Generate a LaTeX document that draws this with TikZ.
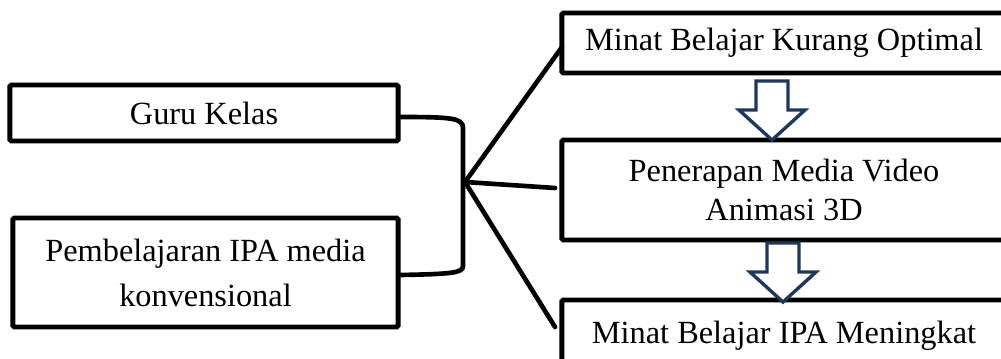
\documentclass[tikz,border=0pt]{standalone}
\usepackage{fontspec}
\setmainfont{Liberation Serif}
\usepackage{tikz}
\usetikzlibrary{positioning, calc}
\definecolor{arrowblue}{RGB}{31,56,88}
\tikzset{
  box/.style={rectangle, draw=black, fill=white, align=center,
    font=\fontsize{23}{28}\selectfont, line width=3.5pt,
    rounded corners=1pt, inner sep=0pt},
  link/.style={line width=3.3pt, color=black, line cap=round},
  hollowarrow/.style={draw=arrowblue, fill=white, line width=2.4pt,
    line join=miter}
}
\begin{document}
\begin{tikzpicture}[x=0.025cm, y=-0.025cm]
  \useasboundingbox (0,0) rectangle (1001,358);
  \clip (0,0) rectangle (1001,358);
  % left boxes
  \node[box, minimum width=9.7cm, minimum height=1.4cm] (guru) at (204,113) {Guru Kelas};
  \node[box, minimum width=9.625cm, minimum height=2.725cm,
        font=\fontsize{23}{32}\selectfont] (ipa) at (205.5,272.5)
        {Pembelajaran IPA media\\konvensional};
  % right boxes
  \node[box, minimum width=11.1cm, minimum height=1.5cm] (minat) at (784,43) {Minat Belajar Kurang Optimal};
  \node[box, minimum width=11.1cm, minimum height=2.5cm,
        font=\fontsize{23}{27.5}\selectfont] (media) at (784,190)
        {Penerapan Media Video\\Animasi 3D};
  \node[box, minimum width=11.1cm, minimum height=1.8cm] (hasil) at (784,336) {Minat Belajar IPA Meningkat};
  % bracket
  \coordinate (brtop) at (400,117);
  \coordinate (brbot) at (400,275);
  \coordinate (hub) at (465,182);
  \draw[link] (brtop) .. controls (452,117) and (463,118) .. (463,128) -- (463,266)
    .. controls (463,273) and (452,274) .. (brbot);
  % fan out
  \coordinate (endA) at (562,47);
  \coordinate (endB) at (555,188);
  \coordinate (endC) at (555,327);
  \foreach \e in {endA, endB, endC} {
     \draw[link] (hub) -- (\e);
  }
  % block arrows
  \foreach \cx/\ty in {772/81, 783/243} {
     \draw[hollowarrow] (\cx-16,\ty) -- (\cx+16,\ty) -- (\cx+16,\ty+29) -- (\cx+33,\ty+29)
       -- (\cx,\ty+59) -- (\cx-33,\ty+29) -- (\cx-16,\ty+29) -- cycle;
  }
\end{tikzpicture}
\end{document}
